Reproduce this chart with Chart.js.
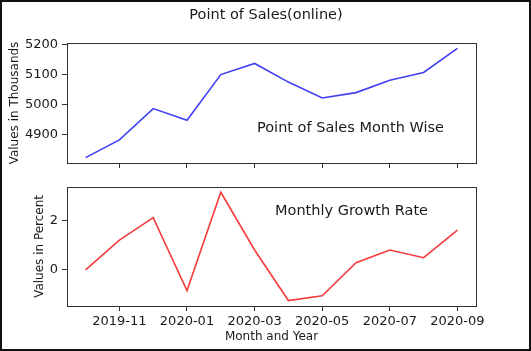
<!DOCTYPE html>
<html>
<head>
<meta charset="utf-8">
<script src="https://cdn.jsdelivr.net/npm/chart.js@4/dist/chart.umd.min.js"></script>
<style>
  html, body { margin: 0; padding: 0; background: #fff; }
  #wrap { position: relative; width: 531px; height: 351px; box-sizing: border-box; border: 2px solid #111; overflow: hidden; }
  canvas { position: absolute; left: -2px; }
  #c1 { top: -2px; }
  #c2 { top: 173px; }
</style>
</head>
<body>
<div id="wrap">
  <canvas id="c1" width="531" height="175"></canvas>
  <canvas id="c2" width="531" height="176"></canvas>
</div>
<script>
// months on the x axis
const months = ['2019-10', '2019-11', '2019-12', '2020-01', '2020-02', '2020-03',
                '2020-04', '2020-05', '2020-06', '2020-07', '2020-08', '2020-09'];
// point of sales, in thousands
const sales = [4824, 4883, 4987, 4948, 5100, 5137, 5075, 5022, 5040, 5081, 5107, 5187];
// monthly growth rate, percent
const growth = [0, 1.2, 2.1, -0.83, 3.12, 0.8, -1.23, -1.04, 0.29, 0.8, 0.49, 1.6];
// tick labels
const xTickIdx = [1, 3, 5, 7, 9, 11];
const salesTicks = [4900, 5000, 5100, 5200];
const growthTicks = [0, 2];

const FONT = "'DejaVu Sans', sans-serif";
const TXT = '#1a1a1a';

// draws the box around the plot area plus some free text
function framePlugin(texts) {
  return {
    id: 'frame',
    afterDraw(chart) {
      const { ctx, chartArea: a } = chart;
      ctx.save();
      ctx.strokeStyle = '#333';
      ctx.lineWidth = 1;
      ctx.strokeRect(Math.round(a.left) + 0.5, Math.round(a.top) + 0.5,
                     Math.round(a.right - a.left), Math.round(a.bottom - a.top));
      ctx.fillStyle = TXT;
      ctx.textBaseline = 'middle';
      texts.forEach(t => {
        ctx.font = t.size + 'px ' + FONT;
        ctx.textAlign = t.align || 'left';
        ctx.fillText(t.text, t.x, t.y);
      });
      ctx.restore();
    }
  };
}

function makeChart(id, values, color, yTicks, yRange, yTitle, yTitlePad, opts) {
  return new Chart(document.getElementById(id), {
    type: 'line',
    data: {
      datasets: [{
        data: values.map((v, i) => ({ x: i, y: v })),
        borderColor: color,
        borderWidth: 1.6,
        pointRadius: 0,
        tension: 0,
        fill: false
      }]
    },
    options: {
      responsive: false,
      animation: false,
      layout: { padding: opts.padding },
      plugins: { legend: { display: false }, tooltip: { enabled: false }, title: { display: false } },
      scales: {
        x: {
          type: 'linear',
          min: -0.55,
          max: 11.55,
          afterBuildTicks: s => { s.ticks = xTickIdx.map(v => ({ value: v })); },
          afterFit: s => { s.height = opts.xHeight; },
          border: { display: false },
          grid: { drawOnChartArea: false, drawTicks: true, tickLength: 5, color: '#333' },
          ticks: {
            display: opts.showX,
            padding: 3,
            maxRotation: 0,
            autoSkip: false,
            color: TXT,
            font: { family: FONT, size: 13 },
            callback: v => months[v]
          },
          title: {
            display: opts.showX,
            text: 'Month and Year',
            color: TXT,
            font: { family: FONT, size: 12 },
            padding: { top: 0, bottom: 7 }
          }
        },
        y: {
          min: yRange[0],
          max: yRange[1],
          afterBuildTicks: s => { s.ticks = yTicks.map(v => ({ value: v })); },
          afterFit: s => { s.width = 67; },
          border: { display: false },
          grid: { drawOnChartArea: false, drawTicks: true, tickLength: 5, color: '#333' },
          ticks: { padding: 4, color: TXT, font: { family: FONT, size: 13 }, callback: v => String(v) },
          title: {
            display: true,
            text: yTitle,
            color: TXT,
            font: { family: FONT, size: 12 },
            padding: { top: yTitlePad, bottom: 0 }
          }
        }
      }
    },
    plugins: [framePlugin(opts.texts)]
  });
}

makeChart('c1', sales, '#3f3ff5', salesTicks, [4806, 5205], 'Values in Thousands', 8, {
  padding: { left: 0, right: 55, top: 43, bottom: 0 },
  xHeight: 12,
  showX: false,
  texts: [
    { text: 'Point of Sales(online)', x: 266, y: 15, size: 14.5, align: 'center' },
    { text: 'Point of Sales Month Wise', x: 257, y: 128, size: 14.5 }
  ]
});

makeChart('c2', growth, '#f53b3b', growthTicks, [-1.45, 3.34], 'Values in Percent', 33, {
  padding: { left: 0, right: 55, top: 11, bottom: 0 },
  xHeight: 45,
  showX: true,
  texts: [
    { text: 'Monthly Growth Rate', x: 275, y: 36, size: 14.5 }
  ]
});
</script>
</body>
</html>
